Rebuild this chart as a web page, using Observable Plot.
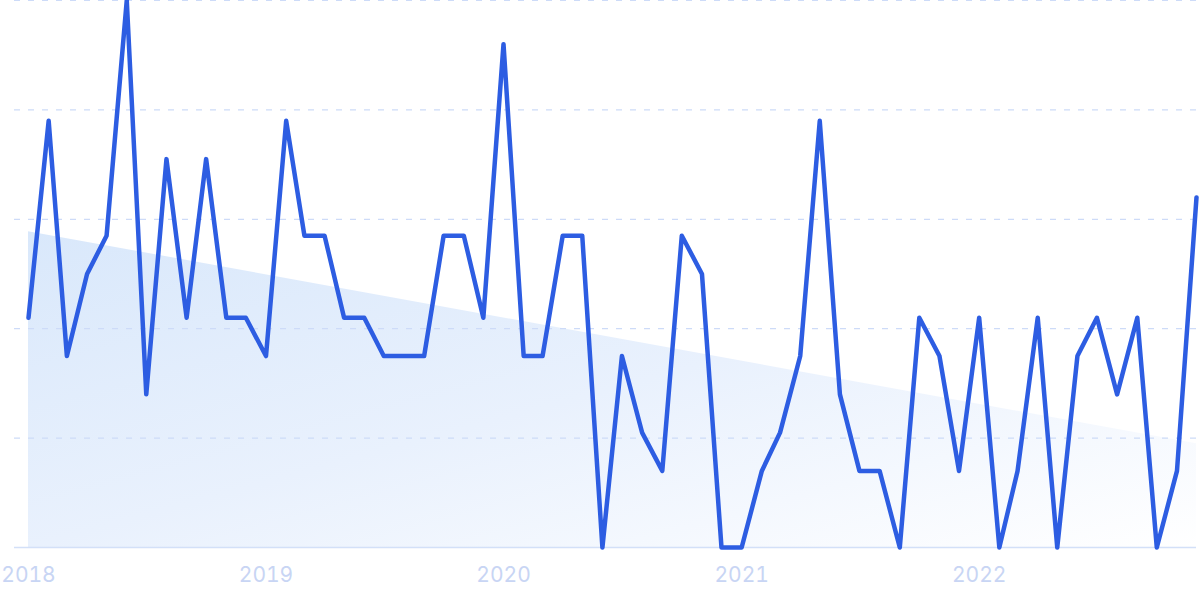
<!DOCTYPE html>
<html>
<head>
<meta charset="utf-8">
<script src="https://cdn.jsdelivr.net/npm/d3@7"></script>
<script src="https://cdn.jsdelivr.net/npm/@observablehq/plot@0.6"></script>
<style>
  html, body { margin: 0; padding: 0; background: #ffffff; }
  #chart svg { display: block; }
</style>
</head>
<body>
<div id="chart"></div>
<script>
// Monthly series, Jan 2018 .. Dec 2022
const startMonth = "2018-01";
const values = [
  42, 78, 35, 50, 57, 100, 28, 71, 42, 71, 42, 42,
  35, 78, 57, 57, 42, 42, 35, 35, 35, 57, 57, 42,
  92, 35, 35, 57, 57, 0, 35, 21, 14, 57, 50, 0,
  0, 14, 21, 35, 78, 28, 14, 14, 0, 42, 35, 14,
  42, 0, 14, 42, 0, 35, 42, 28, 42, 0, 14, 64
];
const yearLabels = ["2018", "2019", "2020", "2021", "2022"];
const gridValues = [20, 40, 60, 80, 100];

const start = d3.utcParse("%Y-%m")(startMonth);
const data = values.map((v, i) => ({date: d3.utcMonth.offset(start, i), value: v, i}));

// Linear trend (least squares) of the series
const n = data.length;
const mx = d3.mean(data, d => d.i), my = d3.mean(data, d => d.value);
const slope = d3.sum(data, d => (d.i - mx) * (d.value - my)) / d3.sum(data, d => (d.i - mx) ** 2);
const trend = [data[0], data[n - 1]].map(d => ({date: d.date, value: my + slope * (d.i - mx)}));

const yearTicks = yearLabels.map(y => d3.utcParse("%Y")(y));

const gradientDefs = () => {
  const defs = d3.create("svg:defs");
  const g = defs.append("linearGradient")
    .attr("id", "trendGrad")
    .attr("x1", "0").attr("y1", "0").attr("x2", "1").attr("y2", "1");
  g.append("stop").attr("offset", "0%").attr("stop-color", "#d9e8fb");
  g.append("stop").attr("offset", "50%").attr("stop-color", "#e9f1fd");
  g.append("stop").attr("offset", "100%").attr("stop-color", "#ffffff");
  return defs.node();
};

const chart = Plot.plot({
  width: 1200,
  height: 599,
  marginTop: 0,
  marginBottom: 52,
  marginLeft: 14,
  marginRight: 4,
  style: {fontFamily: "Inter, 'Noto Sans', sans-serif", background: "#ffffff"},
  x: {type: "utc", domain: [data[0].date, data[n - 1].date], range: [28, 1196]},
  y: {domain: [0, 100], axis: null},
  marks: [
    gradientDefs,
    Plot.areaY(trend, {x: "date", y1: 0, y2: "value", fill: "url(#trendGrad)"}),
    Plot.ruleY(gridValues, {stroke: "#cddbf8", strokeWidth: 1.2, strokeDasharray: "6,8"}),
    Plot.ruleY([0], {stroke: "#d3e0f8", strokeWidth: 1.5}),
    Plot.lineY(data, {x: "date", y: "value", stroke: "#2d5de2", strokeWidth: 4.5, strokeLinejoin: "round"}),
    Plot.axisX(yearTicks, {
      tickSize: 0,
      tickPadding: 20,
      tickFormat: d3.utcFormat("%Y"),
      fontSize: 21,
      fill: "#c8d5f4",
      label: null
    })
  ]
});

document.getElementById("chart").appendChild(chart);
</script>
</body>
</html>
